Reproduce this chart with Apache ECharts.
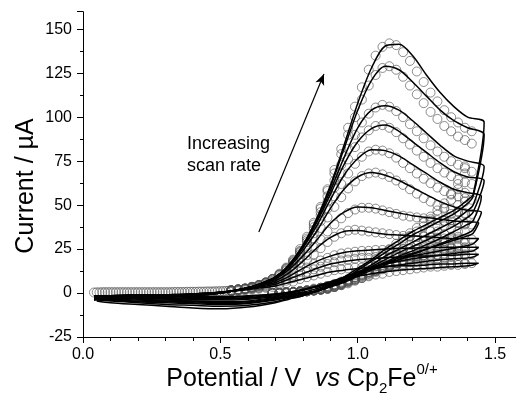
<!DOCTYPE html>
<html><head><meta charset="utf-8">
<script src="https://cdn.jsdelivr.net/npm/echarts@6/dist/echarts.min.js"></script>
<style>html,body{margin:0;padding:0;background:#fff}#c{width:516px;height:396px}</style>
</head><body><div id="c"></div>
<script>
// ---------- data (rows: slowest scan rate -> fastest) ----------
const simFwdV = [0.04,0.1,0.2,0.3,0.4,0.5,0.6,0.65,0.7,0.75,0.8,0.85,0.9,0.95,1.0,1.05,1.1,1.15,1.2,1.25,1.3,1.35,1.4];
const simSwitchV = [1.44,1.44,1.44,1.44,1.44,1.45,1.45,1.46,1.46,1.46,1.46];
const simRevV = [1.42,1.4,1.35,1.3,1.25,1.2,1.15,1.1,1.05,1.0,0.95,0.9,0.85,0.8,0.75,0.7,0.6,0.5,0.4,0.3,0.2,0.1,0.05];
const simFwdI = [
 [-1.5,-1.5,-1,-1,-0.5,0.5,2,3,4,6,8,10,12,13,14,14.5,15,15.5,15.5,16,16.5,16.5,17,17],
 [-2,-1.5,-1,-1,-0.5,0.5,2,3.5,5,8,11,14,16.5,18,19,19.5,20,20.5,21,21,21.5,21.5,22,22],
 [-2,-1.5,-1,-1,-0.5,0.5,2.5,4,6,9.5,14,18,21,23,24,24.5,25,25.5,25.5,26,26,26,26,26],
 [-2.5,-2,-1.5,-1,-0.5,0.5,2.5,4.5,7,11.5,18,25.5,31.5,35,35.5,34.5,33.5,33,32.5,32,31.5,31,31,31],
 [-2.5,-2,-1.5,-1,-0.5,0.5,3,5,8,13.5,21,30,39.5,46,49,48.5,47,45.5,44,43,42,41,40.5,40],
 [-3,-2.5,-2,-1.5,-1,0,3,5,8.5,14.5,24,35,48,59,66,68.5,67,64,60,56,52,49,47,46],
 [-3,-2.5,-2,-1.5,-1,0,3,5.5,9,15.5,25.5,38,53,67,76.5,81.5,81,78,73,68,63,59,57,55],
 [-3.5,-3,-2.5,-2,-1.5,0,3,5.5,9,15.5,26,40,56,73,86,93.5,95.5,92,86,80,74,69,66,64],
 [-3.5,-3,-2.5,-2,-1.5,0,3,5.5,9,16,26.5,41,58,77,94,104,106.5,104,98,91,84,78,75,72],
 [-4,-3,-2.5,-2,-1.5,0,3,5.5,9,16,27,42,60,82,104,121,129,127,120,112,104,98,94,90],
 [-4,-3,-2.5,-2,-1.5,0,3,5.5,9,16,27,42,61,84,108,128,140.5,141.5,135,124,114,106,100,97]
];
const simRevI = [
 [16,15.5,15,14.5,14,13.5,13,12,11,9.5,7.5,5.5,3.5,2,0.5,-0.5,-1.5,-2,-2,-2,-1.5,-1.5,-1.5],
 [20.5,20,19.5,19,18,17,16,15,13.5,11.5,9,6.5,4,2,0.5,-0.5,-2,-2.5,-2.5,-2,-2,-2,-2],
 [24,23.5,22.5,21.5,20.5,19.5,18,16.5,14.5,12,9,6,3.5,1.5,0,-1,-2.5,-3,-3,-2.5,-2.5,-2,-2],
 [28,27,25.5,24,22.5,21,19,17,14.5,11.5,8,5,2.5,0.5,-0.5,-1.5,-3,-3.5,-3.5,-3,-3,-2.5,-2.5],
 [34,32.5,30,27.5,25,22.5,20,17,14,10.5,7,4,1.5,0,-1,-2,-3.5,-4,-4,-3.5,-3,-3,-2.5],
 [36,34,31,28,25,22,19,16,13,9.5,6,3.5,1,-0.5,-1.5,-2.5,-4.5,-5,-4.5,-4,-3.5,-3,-3],
 [41,39,35,31,27.5,24,21,17.5,14,10,6.5,3.5,1,-0.5,-2,-3,-5,-5.5,-5,-4.5,-4,-3.5,-3],
 [46,43,38,34,30,26.5,23,19,15,11,7,4,1,-1,-2,-3.5,-5.5,-6,-5.5,-5,-4.5,-4,-3.5],
 [50,47,41,37,33,29,25,21,16,11.5,7.5,4,1,-1,-2.5,-4,-6,-6.5,-6,-5.5,-5,-4,-3.5],
 [55,51,45,41,37,33,28,23,18,13,8,4.5,1,-1.5,-3,-5,-7,-7.5,-7,-6.5,-5.5,-4.5,-4],
 [56,53,47,43,39,35,30,25,19,14,9,5,1.5,-1.5,-3.5,-5.5,-8,-9,-8.5,-7.5,-6.5,-5.5,-4.5]
];
const expLowV = [0.04,0.05,0.06,0.07,0.08,0.09,0.10,0.11,0.12,0.13,0.14,0.15,0.16,0.17,0.18,0.19,0.20,0.21,0.22,0.23,0.24,0.25,0.26,0.27,0.28,0.29,0.30,0.31,0.32,0.33,0.34,0.35,0.36,0.37,0.38,0.39,0.40,0.41,0.42,0.43,0.44,0.45,0.46,0.47,0.48,0.49,0.50,0.51,0.52,0.53];
const expLowI = [0.3,0.4,0.4,0.5,0.5,0.5,0.5,0.5,0.5,0.5,0.5,0.5,0.5,0.5,0.5,0.5,0.5,0.5,0.5,0.5,0.5,0.5,0.5,0.5,0.5,0.5,0.5,0.5,0.5,0.6,0.6,0.6,0.6,0.6,0.7,0.7,0.7,0.7,0.8,0.8,0.8,0.9,0.9,0.9,1.0,1.0,1.1,1.1,1.2,1.3];
const expFwdV = [0.54,0.565,0.59,0.615,0.64,0.665,0.69,0.715,0.74,0.765,0.79,0.815,0.84,0.865,0.89,0.915,0.94,0.965,0.99,1.015,1.04,1.065,1.09,1.115,1.14,1.165,1.19,1.215,1.24,1.265,1.29,1.315,1.34,1.365,1.39,1.415];
const expRevV = [1.39,1.365,1.34,1.315,1.29,1.265,1.24,1.215,1.19,1.165,1.14,1.115,1.09,1.065,1.04,1.015,0.99,0.965,0.94,0.915,0.89,0.865,0.84,0.815,0.79,0.765,0.74,0.715,0.69];
const expFwdI = [
 [1,1,1.5,2,2.5,3,3.5,4.5,5.5,6.5,8,9,10,11,12,13,13.5,14,14.5,14.5,15,15,15,15.5,15.5,15.5,16,16,16,16,16.5,16.5,16.5,17,17,17],
 [1,1.5,2,2.5,3,3.5,4.5,5.5,7,8.5,10,12,13.5,15,16.5,17.5,18.5,19,19.5,20,20,20.5,20.5,20.5,21,21,21,21,21.5,21.5,21.5,21.5,22,22,22,22],
 [1,1.5,2,2.5,3,4,5,6.5,8,10,12,14.5,16.5,18.5,20,21.5,22.5,23,23.5,24,24,24.5,24.5,24.5,25,25,25,25,25.5,25.5,25.5,25.5,26,26,26,26],
 [1.5,2,2.5,3,3.5,4.5,6,7.5,9.5,12,15,18.5,22,25.5,29,32,34,35.5,36,35.5,35,34.5,34,33.5,33,32.5,32.5,32,32,31.5,31.5,31,31,31,30.5,30.5],
 [1.5,2,2.5,3,4,5,6.5,8.5,11,14,17.5,21.5,26,30.5,35,39,42.5,45.5,47.5,48.5,48.5,48,47,46,45,44,43.5,43,42.5,42,41.5,41,40.5,40,39.5,39],
 [1.5,2,2.5,3,4,5.5,7,9.5,12.5,16,20.5,25.5,31,37,43,49,54.5,59.5,63.5,66.5,68,68.5,67.5,66,64,61.5,59,56.5,54,52,50,48.5,47.5,46.5,45.5,45],
 [1.5,2,2.5,3.5,4.5,5.5,7.5,10,13,17,22,27.5,34,41,48,55,62,68,73.5,77.5,80.5,81.5,81,79.5,77,74,71,68,65,62.5,60,58,56.5,55,54,53],
 [1.5,2,2.5,3.5,4.5,6,8,10.5,13.5,17.5,23,29,36,44,52,60,68,76,83,88.5,92.5,95,95.5,94,91.5,88,84.5,81,77.5,74,71,68.5,66.5,64.5,63,62],
 [1.5,2,2.5,3.5,4.5,6,8,10.5,14,18,23.5,30,37.5,46,55,64,73,82,90,97,102,105.5,107,106,103.5,100,96,92,88,84,80.5,77.5,75,73,71,69],
 [1.5,2,2.5,3.5,4.5,6,8,10.5,14,18.5,24,31,39,48,58,68,79,90,100,110,118,124,128,129,127,123,118,113,108,103,99,95,92,89,87,85],
 [1.5,2,2.5,3.5,4.5,6,8,11,14.5,19,25,32,40,49,59,70,82,94,106,117,127,135,140,142,141,137,132,126,120,114,109,104,100,97,94,92]
];
const expRevI = [
 [16.5,16,16,15.5,15,15,14.5,14,13.5,13,12.5,12,11,10.5,9.5,8.5,7.5,6.5,5.5,4.5,3.5,3,2,1.5,1,0.5,0.5,0,0],
 [21.5,21,20.5,20,19.5,19,18.5,18,17.5,16.5,16,15,14,13,12,10.5,9,7.5,6.5,5,4,3,2.5,1.5,1,0.5,0.5,0,0],
 [25,24,23.5,22.5,22,21,20.5,19.5,19,18,17,16,15,13.5,12,10.5,9,7.5,6,5,4,3,2,1.5,1,0.5,0.5,0,0],
 [28.5,27,25.5,24.5,23.5,22.5,21.5,20.5,19.5,18.5,17,16,14.5,13,11.5,10,8.5,7,5.5,4.5,3.5,2.5,2,1.5,1,0.5,0.5,0,0],
 [35,32,30,28,26,24.5,23,21.5,20,18.5,17,15.5,14,12.5,11,9.5,8,6.5,5,4,3,2,1.5,1,0.5,0.5,0,0,0],
 [39,35,32,29.5,27.5,25.5,23.5,22,20,18.5,17,15,13.5,12,10,8.5,7,5.5,4.5,3.5,2.5,2,1.5,1,0.5,0.5,0,0,0],
 [45,40,36.5,33.5,31,28.5,26.5,24.5,22.5,20.5,18.5,16.5,14.5,12.5,11,9,7.5,6,4.5,3.5,2.5,2,1.5,1,0.5,0.5,0,0,0],
 [52,46,41.5,38,35,32,29.5,27,25,22.5,20.5,18,16,14,12,10,8,6.5,5,3.5,2.5,2,1.5,1,0.5,0.5,0,0,0],
 [57,50,45,41,38,35,32.5,30,27.5,25,22.5,20,17.5,15.5,13,11,9,7,5,3.5,2.5,2,1.5,1,0.5,0.5,0,0,0],
 [68,59,53,48,44.5,41,38,35,32,29,26.5,23.5,20.5,18,15,12.5,10,7.5,5.5,4,3,2,1.5,1,0.5,0.5,0,0,0],
 [72,62,56,51,47,43.5,40,37,34,31,28,25,22,19,16,13,10.5,8,6,4.5,3,2,1.5,1,0.5,0.5,0,0,0]
];
const xTicks = [0.0, 0.5, 1.0, 1.5];
const yTicks = [-25, 0, 25, 50, 75, 100, 125, 150];
const arrowFrom = [0.640, 34.7];
const arrowTo = [0.877, 124.6];

// ---------- build ----------
const FONT = '"Liberation Sans", Arial, sans-serif';
const circleStyle = {color:'rgba(0,0,0,0)', borderColor:'#4d4d4d', borderWidth:0.8};
const series = [];
series.push({type:'scatter', data: expLowV.map((v,i)=>[v, expLowI[i]]), symbol:'circle', symbolSize:9,
  itemStyle:circleStyle, z:2, silent:true, animation:false});
for (let k = 0; k < simFwdI.length; k++) {
  const exp = expFwdV.map((v,i)=>[v, expFwdI[k][i]]).concat(expRevV.map((v,i)=>[v, expRevI[k][i]]));
  series.push({type:'scatter', data: exp, symbol:'circle', symbolSize:9,
    itemStyle:circleStyle, z:2, silent:true, animation:false});
}
for (let k = 0; k < simFwdI.length; k++) {
  const f = simFwdV.map((v,i)=>[v, simFwdI[k][i]]);
  f.push([simSwitchV[k], simFwdI[k][simFwdI[k].length-1]]);
  const r = simRevV.map((v,i)=>[v, simRevI[k][i]]);
  series.push({type:'line', data: f.concat(r), showSymbol:false, smooth:0.3,
    lineStyle:{color:'#000', width:1.5}, z:3, silent:true, animation:false});
}
series.push({type:'line', data:[], silent:true, animation:false,
  markLine:{silent:true, animation:false, symbol:['none','arrow'], symbolSize:[7,11],
    lineStyle:{color:'#000', width:1.2, type:'solid'}, label:{show:false},
    data:[[{coord:arrowFrom},{coord:arrowTo}]]}});

const chart = echarts.init(document.getElementById('c'), null, {renderer:'canvas'});
chart.setOption({
  animation:false,
  backgroundColor:'#fff',
  grid:{left:83, right:0, top:11.7, bottom:59, containLabel:false},
  xAxis:{type:'value', min:0, max:1.576, interval:0.5,
    axisLine:{show:true, onZero:false, lineStyle:{color:'#000', width:1}},
    axisTick:{show:true, inside:false, length:6, lineStyle:{color:'#000'}},
    minorTick:{show:true, splitNumber:5, length:4, lineStyle:{color:'#000'}},
    splitLine:{show:false}, minorSplitLine:{show:false},
    axisLabel:{showMaxLabel:false, margin:10, color:'#000', fontSize:16, fontFamily:FONT,
      formatter:(v)=> xTicks.indexOf(Math.round(v*10)/10) >= 0 ? v.toFixed(1) : ''}},
  yAxis:{type:'value', min:-25, max:160, interval:25,
    axisLine:{show:true, onZero:false, lineStyle:{color:'#000', width:1}},
    axisTick:{show:true, inside:false, length:6, lineStyle:{color:'#000'}},
    minorTick:{show:true, splitNumber:2, length:3, lineStyle:{color:'#000'}},
    splitLine:{show:false}, minorSplitLine:{show:false},
    axisLabel:{showMaxLabel:false, margin:11, color:'#000', fontSize:16, fontFamily:FONT,
      formatter:(v)=> yTicks.indexOf(v) >= 0 ? String(v) : ''}},
  series: series,
  graphic:[
    {type:'text', x:26, y:186, rotation:Math.PI/2, z:10,
      style:{text:'Current / µA', font:'25px '+FONT, fill:'#000', align:'center', verticalAlign:'middle', textAlign:'center', textVerticalAlign:'middle'}},
    {type:'text', x:302, y:379.5, z:10,
      style:{text:'{a|Potential / V  }{i|vs}{a| Cp}{s|2}{a|Fe}{p|0/+}', fill:'#000', align:'center', verticalAlign:'middle', textAlign:'center', textVerticalAlign:'middle',
        rich:{
          a:{font:'25px '+FONT, fill:'#000', lineHeight:34, verticalAlign:'middle'},
          i:{font:'italic 25px '+FONT, fill:'#000', lineHeight:34, verticalAlign:'middle'},
          s:{font:'15px '+FONT, fill:'#000', lineHeight:13, verticalAlign:'bottom'},
          p:{font:'15px '+FONT, fill:'#000', lineHeight:13, verticalAlign:'top'}
        }}},
    {type:'text', x:187, y:144, z:10, style:{text:'Increasing', font:'18px '+FONT, fill:'#000', align:'left', verticalAlign:'middle', textAlign:'left', textVerticalAlign:'middle'}},
    {type:'text', x:187, y:166, z:10, style:{text:'scan rate', font:'18px '+FONT, fill:'#000', align:'left', verticalAlign:'middle', textAlign:'left', textVerticalAlign:'middle'}}
  ]
});
</script></body></html>
